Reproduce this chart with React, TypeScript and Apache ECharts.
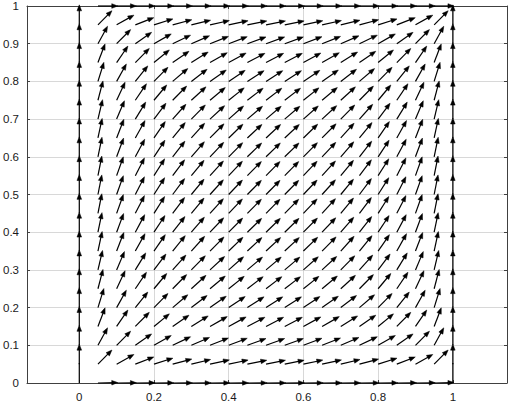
import React, { useEffect, useRef } from "react";
import * as echarts from "echarts";

// Sample positions of the vector field (columns / rows)
const gridX = [0, 0.05, 0.1, 0.15, 0.2, 0.25, 0.3, 0.35, 0.4, 0.45, 0.5, 0.55, 0.6, 0.65, 0.7, 0.75, 0.8, 0.85, 0.9, 0.95, 1];
const gridY = [0, 0.05, 0.1, 0.15, 0.2, 0.25, 0.3, 0.35, 0.4, 0.45, 0.5, 0.55, 0.6, 0.65, 0.7, 0.75, 0.8, 0.85, 0.9, 0.95, 1];
// Horizontal component per column, vertical component per row (read from the arrows' slopes)
const colU = [0, 0.05, 0.09, 0.13, 0.16, 0.19, 0.21, 0.23, 0.24, 0.25, 0.25, 0.25, 0.24, 0.23, 0.21, 0.19, 0.16, 0.13, 0.09, 0.05, 0];
const rowV = [0.001, 0.05, 0.09, 0.13, 0.16, 0.19, 0.21, 0.23, 0.24, 0.25, 0.25, 0.25, 0.24, 0.23, 0.21, 0.19, 0.16, 0.13, 0.09, 0.05, 0];
// Drawn arrow length (data units)
const arrowLength = 0.053;
// Tick labels
const xTickValues = [0, 0.2, 0.4, 0.6, 0.8, 1];

const AXIS_COLOR = "#404040";
const GRID_COLOR = "#d8d8d8";
const FONT = "Liberation Sans";

export default function App() {
  const ref = useRef<HTMLDivElement>(null);

  useEffect(() => {
    if (!ref.current) return;
    const chart = echarts.init(ref.current, null, { renderer: "svg" });

    const data: number[][] = [];
    gridY.forEach((y, j) => {
      gridX.forEach((x, i) => {
        const u = colU[i];
        const v = rowV[j];
        if (u === 0 && v === 0) return;
        data.push([x, y, u, v]);
      });
    });

    const renderItem = (params: any, api: any) => {
      const x = api.value(0);
      const y = api.value(1);
      const u = api.value(2);
      const v = api.value(3);
      const len = Math.sqrt(u * u + v * v);
      const ex = x + (u / len) * arrowLength;
      const ey = y + (v / len) * arrowLength;
      const p0 = api.coord([x, y]);
      const p1 = api.coord([ex, ey]);
      const dx = p1[0] - p0[0];
      const dy = p1[1] - p0[1];
      const d = Math.sqrt(dx * dx + dy * dy) || 1;
      const ux = dx / d;
      const uy = dy / d;
      // near-degenerate vectors: stem only
      if (len < 0.01) {
        return {
          type: "line",
          shape: { x1: p0[0], y1: p0[1], x2: p1[0], y2: p1[1] },
          style: { stroke: "#000", lineWidth: 1.2 },
        };
      }
      const h = 6;
      const w = 2.3;
      const bx = p1[0] - ux * h;
      const by = p1[1] - uy * h;
      const px = -uy;
      const py = ux;
      return {
        type: "group",
        children: [
          {
            type: "line",
            shape: { x1: p0[0], y1: p0[1], x2: p1[0] - ux * 2, y2: p1[1] - uy * 2 },
            style: { stroke: "#000", lineWidth: 1.2 },
          },
          {
            type: "polygon",
            shape: {
              points: [
                [p1[0], p1[1]],
                [bx + px * w, by + py * w],
                [bx - px * w, by - py * w],
              ],
            },
            style: { fill: "#000", stroke: "#000", lineWidth: 0.5 },
          },
        ],
      };
    };

    const xMin = -0.14;
    const xMax = 1.145;

    chart.setOption({
      animation: false,
      backgroundColor: "#ffffff",
      grid: { left: 25, right: 3, top: 5, bottom: 21, containLabel: false },
      xAxis: [
        {
          type: "value",
          min: xMin,
          max: xMax,
          position: "bottom",
          axisLine: { show: true, onZero: false, lineStyle: { color: AXIS_COLOR, width: 1 } },
          axisTick: { show: true, inside: true, length: 3, customValues: xTickValues, lineStyle: { color: AXIS_COLOR } },
          axisLabel: {
            customValues: xTickValues,
            fontSize: 11.5,
            color: "#1a1a1a",
            margin: 8,
            fontFamily: FONT,
          },
          splitLine: { show: true, lineStyle: { color: GRID_COLOR, width: 1 } },
        },
        {
          type: "value",
          min: xMin,
          max: xMax,
          position: "top",
          axisLine: { show: true, onZero: false, lineStyle: { color: AXIS_COLOR, width: 1 } },
          axisTick: { show: true, inside: true, length: 3, customValues: xTickValues, lineStyle: { color: AXIS_COLOR } },
          axisLabel: { show: false },
          splitLine: { show: false },
        },
      ],
      yAxis: [
        {
          type: "value",
          min: 0,
          max: 1,
          interval: 0.1,
          position: "left",
          axisLine: { show: true, onZero: false, lineStyle: { color: AXIS_COLOR, width: 1 } },
          axisTick: { show: true, inside: true, length: 3, lineStyle: { color: AXIS_COLOR } },
          axisLabel: { fontSize: 11.5, color: "#1a1a1a", margin: 8, fontFamily: FONT },
          splitLine: { show: true, lineStyle: { color: GRID_COLOR, width: 1 } },
        },
        {
          type: "value",
          min: 0,
          max: 1,
          interval: 0.1,
          position: "right",
          axisLine: { show: true, onZero: false, lineStyle: { color: AXIS_COLOR, width: 1 } },
          axisTick: { show: true, inside: true, length: 3, lineStyle: { color: AXIS_COLOR } },
          axisLabel: { show: false },
          splitLine: { show: false },
        },
      ],
      series: [
        {
          type: "custom",
          xAxisIndex: 0,
          yAxisIndex: 0,
          renderItem,
          clip: false,
          data,
          z: 5,
        },
      ],
    });

    return () => chart.dispose();
  }, []);

  return (
    <div
      ref={ref}
      style={{ position: "absolute", left: 0, top: 0, width: 510, height: 404 }}
    />
  );
}
